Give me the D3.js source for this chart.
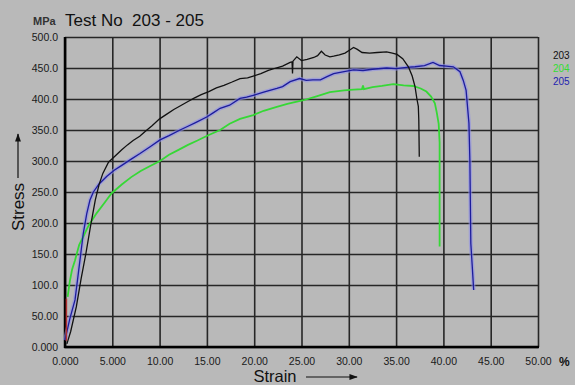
<!DOCTYPE html>
<html>
<head>
<meta charset="utf-8">
<script src="https://cdn.jsdelivr.net/npm/d3@7"></script>
<style>
  body { margin: 0; background: #b9b9b9; }
  svg { display: block; }
  text { font-family: "Liberation Sans", Arial, sans-serif; }
</style>
</head>
<body>
<script>
// values: [strain %, stress MPa]
const xTicks = [0, 5, 10, 15, 20, 25, 30, 35, 40, 45, 50];
const xLabels = ['0.000', '5.000', '10.00', '15.00', '20.00', '25.00', '30.00', '35.00', '40.00', '45.00', '50.00'];
const yTicks = [0, 50, 100, 150, 200, 250, 300, 350, 400, 450, 500];
const yLabels = ['0.000', '50.00', '100.0', '150.0', '200.0', '250.0', '300.0', '350.0', '400.0', '450.0', '500.0'];
const legendNames = ['203', '204', '205'];

const test203 = [[0.2,5],[0.6,25],[1.2,65],[1.7,110],[2.2,150],[2.7,195],[3.2,237],[3.6,262],[4.0,280],[4.6,298],
  [5.3,308],[6.0,318],[6.6,326],[7.2,333],[7.9,340],[8.5,348],[9.2,357],[10.0,368],[10.8,376],[11.5,383],
  [12.3,390],[13.0,396],[13.6,401],[14.4,407],[15.2,412],[16.0,418],[16.8,422],[17.6,427],[18.5,433],[19.3,434],
  [19.9,437],[20.7,441],[21.5,446],[22.3,450],[23.0,453],[23.8,459],[24.0,460],[24.05,441],[24.1,461],[24.5,468],
  [25.0,462],[25.6,464],[26.3,467],[26.7,470],[27.1,477],[27.5,471],[28.0,468],[28.4,469],[29.0,471],[29.6,474],
  [30.1,479],[30.5,483],[30.9,480],[31.4,475],[32.2,474],[33.0,475],[34.0,476],[34.6,474],[35.1,472],[35.7,465],
  [36.3,452],[36.7,437],[37.0,420],[37.2,400],[37.35,388],[37.4,366],[37.45,307]];

const test204 = [[0.28,81],[0.5,105],[0.75,125],[1.06,140],[1.5,165],[1.93,178],[2.5,196],[3.35,216],[4.2,233],[4.93,248],
  [6.0,262],[7.0,274],[8.0,284],[9.0,292],[10.04,300],[11.0,310],[12.0,318],[13.0,326],[14.0,333],[15.2,342],
  [16.4,350],[17.4,360],[18.5,368],[19.9,374],[21.0,381],[22.3,387],[23.5,392],[25.2,398],[26.5,404],[28.0,411],
  [29.5,414],[30.5,415],[31.4,416],[31.5,422],[31.6,416],[32.5,419],[33.5,421],[34.7,424],[35.8,422],[36.8,421],
  [37.6,417],[38.2,412],[38.7,404],[39.1,393],[39.3,378],[39.5,360],[39.6,330],[39.6,250],[39.6,162]];

const test205 = [[0.0,11],[0.5,45],[1.06,76],[1.5,130],[1.93,183],[2.3,215],[2.64,237],[3.0,250],[3.6,263],[4.4,275],
  [5.2,285],[6.0,293],[7.0,303],[7.93,312],[9.0,323],[10.04,334],[11.0,341],[12.16,350],[13.0,356],[13.8,362],
  [14.98,371],[15.7,378],[16.4,385],[17.4,390],[18.5,401],[19.2,403],[19.9,406],[21.0,411],[22.4,417],[23.0,420],
  [23.8,428],[24.8,433],[25.5,430],[26.2,431],[27.0,431],[27.7,436],[28.4,441],[29.5,444],[30.5,447],[31.5,446],
  [32.5,448],[34.0,450],[35.0,449],[36.1,451],[37.0,452],[38.0,454],[38.9,459],[39.6,454],[40.3,453],[41.05,452],
  [41.75,444],[42.1,430],[42.4,414],[42.7,361],[42.8,300],[42.9,167],[43.05,130],[43.2,92]];

const startMark = [[0.15,10],[0.15,78]];

const width = 575, height = 385;
const padLeft = 65, padRight = 538, padTop = 37, padBottom = 347;

const svg = d3.select('body').append('svg')
              .attr('width', width)
              .attr('height', height);

svg.append('rect').attr('width', width).attr('height', height).attr('fill', '#b9b9b9');

const x = d3.scaleLinear().domain([0, 50]).range([padLeft, padRight]);
const y = d3.scaleLinear().domain([0, 500]).range([padBottom, padTop]);

// grid
const gridX = svg.append('g')
   .attr('transform', `translate(0,${padBottom})`)
   .call(d3.axisBottom(x).tickValues(xTicks).tickSize(-(padBottom - padTop)).tickFormat(''));
const gridY = svg.append('g')
   .attr('transform', `translate(${padLeft},0)`)
   .call(d3.axisLeft(y).tickValues(yTicks).tickSize(-(padRight - padLeft)).tickFormat(''));
[gridX, gridY].forEach(g => {
   g.select('.domain').remove();
   g.selectAll('line').attr('stroke', '#262626').attr('stroke-width', 1.6);
});

// main axis lines
svg.append('line').attr('x1', padLeft).attr('x2', padLeft).attr('y1', padTop).attr('y2', padBottom + 1)
   .attr('stroke', '#000').attr('stroke-width', 2.5);
svg.append('line').attr('x1', padLeft - 1).attr('x2', padRight + 1).attr('y1', padBottom).attr('y2', padBottom)
   .attr('stroke', '#000').attr('stroke-width', 2.5);

// tick labels
const axX = svg.append('g')
   .attr('transform', `translate(0,${padBottom})`)
   .call(d3.axisBottom(x).tickValues(xTicks).tickSize(0).tickPadding(11)
          .tickFormat((d, i) => xLabels[i]));
const axY = svg.append('g')
   .attr('transform', `translate(${padLeft},0)`)
   .call(d3.axisLeft(y).tickValues(yTicks).tickSize(0).tickPadding(7)
          .tickFormat((d, i) => yLabels[i]));
[axX, axY].forEach(g => {
   g.select('.domain').remove();
   g.selectAll('text').attr('fill', '#1a1a1a')
    .style('font-family', '"Liberation Sans", Arial, sans-serif').style('font-size', '10.5px');
});

// curves
const line = d3.line().x(d => x(d[0])).y(d => y(d[1]));

svg.append('path').attr('d', line(test205)).attr('fill', 'none')
   .attr('stroke', '#8f8fe8').attr('stroke-width', 4).attr('stroke-opacity', 0.6);
svg.append('path').attr('d', line(test204)).attr('fill', 'none')
   .attr('stroke', '#36d836').attr('stroke-width', 1.8);
svg.append('path').attr('d', line(test205)).attr('fill', 'none')
   .attr('stroke', '#1c1c9c').attr('stroke-width', 1.3);
svg.append('path').attr('d', line(test203)).attr('fill', 'none')
   .attr('stroke', '#111').attr('stroke-width', 1.3);
svg.append('path').attr('d', line(startMark)).attr('fill', 'none')
   .attr('stroke', '#b03030').attr('stroke-width', 1.5);

// title
svg.append('text').attr('x', 33).attr('y', 25).text('MPa')
   .style('font-size', '11px').style('font-weight', 'bold').attr('fill', '#333');
svg.append('text').attr('x', 65).attr('y', 26).text('Test No  203 - 205')
   .style('font-size', '17px').attr('fill', '#111')
   .style('white-space', 'pre');

// legend
const legendColors = ['#111', '#33dd33', '#2323b0'];
svg.selectAll('.legend').data(legendNames).enter().append('text')
   .attr('class', 'legend')
   .attr('x', 553).attr('y', (d, i) => 59 + i * 12.8)
   .text(d => d)
   .attr('fill', (d, i) => legendColors[i])
   .style('font-size', '10px');

// unit on x
svg.append('text').attr('x', 559).attr('y', 366).text('%')
   .style('font-size', '12px').style('font-weight', 'bold').attr('fill', '#111');

// axis titles with arrows
svg.append('defs').append('marker')
   .attr('id', 'arrow').attr('viewBox', '0 0 10 10').attr('refX', 9).attr('refY', 5)
   .attr('markerWidth', 7).attr('markerHeight', 7).attr('orient', 'auto')
   .append('path').attr('d', 'M0,1.5 L10,5 L0,8.5 Z').attr('fill', '#111');

svg.append('text').attr('x', 275).attr('y', 382).attr('text-anchor', 'middle').text('Strain')
   .style('font-size', '16.5px').attr('fill', '#111');
svg.append('line').attr('x1', 306).attr('x2', 357).attr('y1', 377).attr('y2', 377)
   .attr('stroke', '#111').attr('stroke-width', 1.2).attr('marker-end', 'url(#arrow)');

svg.append('text').attr('transform', 'translate(24,207) rotate(-90)').attr('text-anchor', 'middle')
   .text('Stress').style('font-size', '17px').attr('fill', '#111');
svg.append('line').attr('x1', 18).attr('x2', 18).attr('y1', 178).attr('y2', 134)
   .attr('stroke', '#111').attr('stroke-width', 1.2).attr('marker-end', 'url(#arrow)');
</script>
</body>
</html>
